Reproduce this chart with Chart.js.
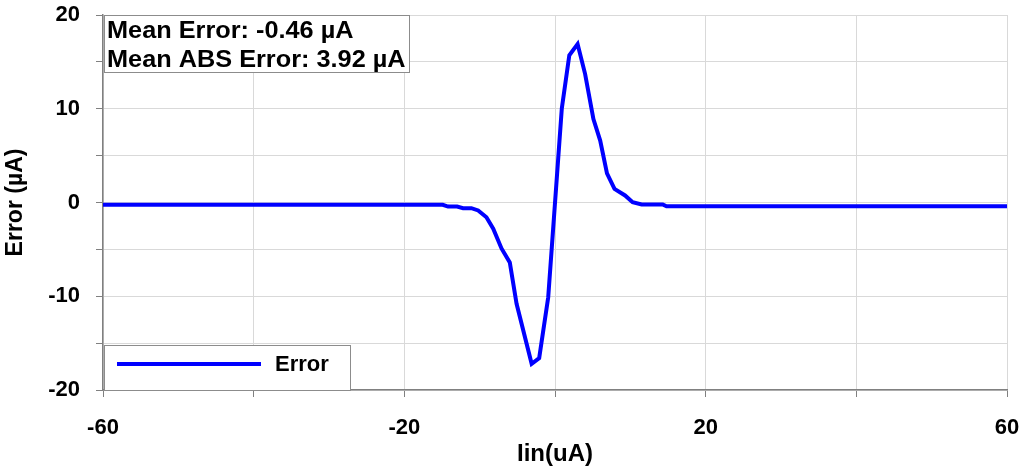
<!DOCTYPE html>
<html>
<head>
<meta charset="utf-8">
<script src="https://cdn.jsdelivr.net/npm/chart.js@4"></script>
<style>
  html, body { margin: 0; padding: 0; background: #fff; }
  #wrap { width: 1024px; height: 472px; position: relative; }
</style>
</head>
<body>
<div id="wrap"><canvas id="errChart"></canvas></div>
<script>
// 전역 옵션
Chart.defaults.responsive = true;
Chart.defaults.maintainAspectRatio = false;
Chart.defaults.font.family = "'Liberation Sans', Arial, sans-serif";

// 측정 데이터 (Iin vs Error)
const iinValues = [
  -60, -14.9, -14.2, -13.0, -12.2, -11.1, -10.2, -9.1, -8.2, -7.1, -6.0, -5.1,
  -3.1, -2.1, -0.9, 0.9, 1.9, 3.0, 4.0, 5.1, 6.0, 6.9, 7.9, 9.3, 10.3, 11.5,
  14.3, 14.8, 60
];
const errorValues = [
  -0.25, -0.25, -0.43, -0.43, -0.6, -0.6, -0.85, -1.57, -2.8, -4.9, -6.4, -10.8,
  -17.2, -16.6, -10.1, 10.0, 15.7, 16.9, 13.7, 8.9, 6.6, 3.1, 1.45, 0.75, 0.03, -0.2,
  -0.2, -0.4, -0.4
];
const xLabelTicks = [-60, -20, 20, 60];   // 라벨이 붙는 x 눈금
const yLabelTicks = [-20, -10, 0, 10, 20]; // 라벨이 붙는 y 눈금
const statLines = ['Mean Error: -0.46 \u00b5A', 'Mean ABS Error: 3.92 \u00b5A'];

const boldFont = "bold 23px 'Liberation Sans', Arial, sans-serif";

// 통계 박스와 범례 박스 그리기
const boxPlugin = {
  id: 'boxPlugin',
  afterDraw(chart) {
    const { ctx, chartArea } = chart;
    ctx.save();
    // 통계 박스
    ctx.fillStyle = '#fff';
    ctx.strokeStyle = '#8c8c8c';
    ctx.lineWidth = 1;
    ctx.fillRect(chartArea.left + 1, chartArea.top, 305, 57);
    ctx.strokeRect(chartArea.left + 1.5, chartArea.top + 0.5, 305, 57);
    ctx.fillStyle = '#000';
    ctx.font = boldFont;
    ctx.textBaseline = 'alphabetic';
    ctx.textAlign = 'left';
    statLines.forEach((t, i) => {
      ctx.save();
      ctx.translate(chartArea.left + 4, chartArea.top + 23 + i * 29);
      ctx.scale(1.1, 1);
      ctx.fillText(t, 0, 0);
      ctx.restore();
    });

    // 범례 박스
    const ds = chart.data.datasets[0];
    const lx = chartArea.left + 1, ly = chartArea.bottom - 45;
    ctx.fillStyle = '#fff';
    ctx.fillRect(lx, ly, 246, 45);
    ctx.strokeRect(lx + 0.5, ly + 0.5, 246, 45);
    ctx.strokeStyle = ds.borderColor;
    ctx.lineWidth = 4;
    ctx.beginPath();
    ctx.moveTo(chartArea.left + 14, ly + 19);
    ctx.lineTo(chartArea.left + 158, ly + 19);
    ctx.stroke();
    ctx.fillStyle = '#000';
    ctx.font = "bold 22px 'Liberation Sans', Arial, sans-serif";
    ctx.textBaseline = 'middle';
    ctx.fillText(ds.label, chartArea.left + 172, ly + 20);
    ctx.restore();
  }
};

const ctx = document.getElementById('errChart').getContext('2d');
new Chart(ctx, {
  type: 'line',
  data: {
    datasets: [{
      label: 'Error',
      data: iinValues.map((x, i) => ({ x: x, y: errorValues[i] })),
      borderColor: '#0000ff',
      borderWidth: 4,
      pointRadius: 0,
      tension: 0,
      fill: false
    }]
  },
  options: {
    animation: false,
    layout: { padding: { left: 0, right: 17, top: 15, bottom: 0 } },
    plugins: { legend: { display: false }, tooltip: { enabled: false } },
    scales: {
      x: {
        type: 'linear',
        min: -60,
        max: 60,
        afterFit(scale) {
          scale.height = 82;
          scale.paddingLeft = 0;
          scale.paddingRight = 0;
        },
        border: { color: '#808080', width: 1.5 },
        grid: { color: '#d9d9d9', tickColor: '#808080', tickLength: 7, lineWidth: 1 },
        ticks: {
          stepSize: 20,
          padding: 18,
          color: '#000',
          maxRotation: 0,
          font: { size: 22, weight: 'bold' },
          callback: v => xLabelTicks.includes(v) ? String(v) : ''
        },
        title: {
          display: true,
          text: 'Iin(uA)',
          color: '#000',
          font: { size: 24, weight: 'bold' },
          padding: { top: 0, bottom: 3 }
        }
      },
      y: {
        min: -20,
        max: 20,
        afterFit(scale) {
          scale.width = 103;
          scale.paddingTop = 0;
          scale.paddingBottom = 0;
        },
        border: { color: '#808080', width: 1.5 },
        grid: { color: '#d9d9d9', tickColor: '#808080', tickLength: 7, lineWidth: 1 },
        ticks: {
          stepSize: 5,
          padding: 16,
          color: '#000',
          font: { size: 22, weight: 'bold' },
          callback: v => yLabelTicks.includes(v) ? String(v) : ''
        },
        title: {
          display: true,
          text: 'Error (\u00b5A)',
          color: '#000',
          font: { size: 23, weight: 'bold' },
          padding: { top: 2, bottom: 0 }
        }
      }
    }
  },
  plugins: [boxPlugin]
});
</script>
</body>
</html>
